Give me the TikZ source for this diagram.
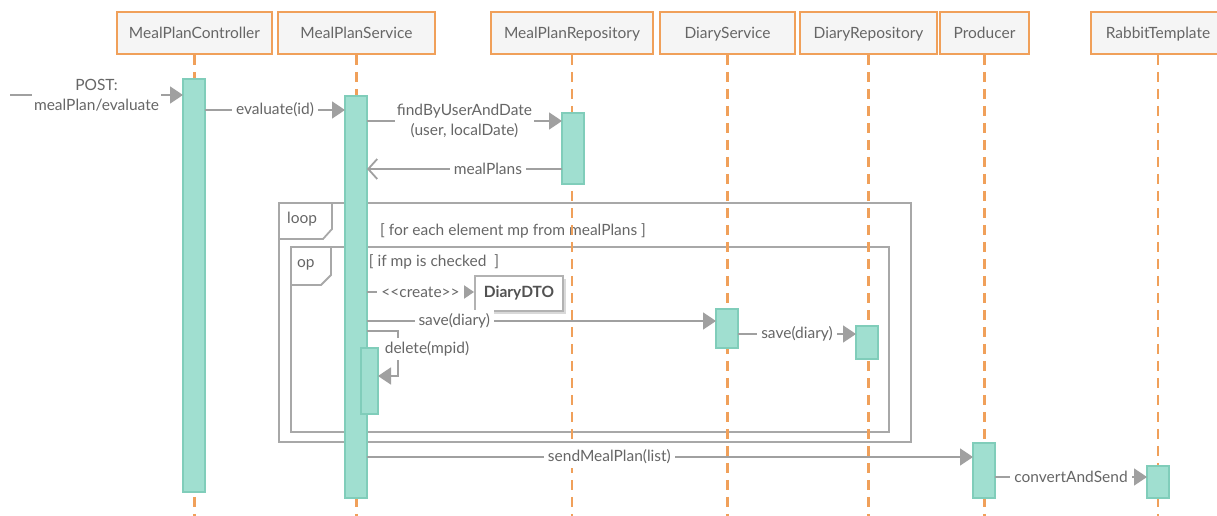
\documentclass[tikz,border=0pt]{standalone}
\usepackage{fontspec}
\setmainfont{Lato}
\usetikzlibrary{arrows.meta,calc,positioning}
\definecolor{lifeorange}{HTML}{F0A05A}
\definecolor{headfill}{HTML}{F5F5F5}
\definecolor{barfill}{HTML}{A0DFD0}
\definecolor{barline}{HTML}{80CDBA}
\definecolor{msggray}{HTML}{A0A0A0}
\definecolor{txtgray}{HTML}{666666}
\definecolor{framegray}{HTML}{A8A8A8}
\tikzset{%
	head/.style   = {draw=lifeorange, fill=headfill, line width=1.8pt, minimum height=42pt, inner sep=0pt, text=txtgray, text height=13pt, text depth=2pt, font=\fontsize{15.5}{18}\selectfont},
	life/.style   = {draw=lifeorange, line width=2.2pt, dash pattern=on 10pt off 7pt},
	actbar/.style = {draw=barline, fill=barfill, line width=1.4pt, minimum width=22pt, inner sep=0pt, outer sep=0pt, anchor=north},
	msg/.style    = {draw=msggray, line width=1.8pt, -{Triangle[length=13pt,width=17pt]}},
	reply/.style  = {draw=msggray, line width=1.8pt, -{Straight Barb[length=9pt,width=20pt]}},
	lbl/.style    = {fill=white, text=txtgray, inner sep=4pt, font=\fontsize{15.5}{19.5}\selectfont},
	frame/.style  = {draw=framegray, line width=1.8pt},
}

\begin{document}
\begin{tikzpicture}[x=1pt,y=-1pt]
	\useasboundingbox (0,0) rectangle (1217,516);
	\clip (0,0) rectangle (1217,516);
	% frames
	\draw[frame] (279,203) rectangle (911,442);
	\draw[frame] (279,239) -- (323,239) -- (332,229) -- (332,203);
	\node[lbl, anchor=west, fill=none] (looptag) at (283,219) {loop};
	\node[lbl, fill=none] (loopguard) at (513,231) {[ for each element mp from mealPlans ]};
	\draw[frame] (291,247) rectangle (889,432);
	\draw[frame] (291,285) -- (321,285) -- (331,275) -- (331,247);
	\node[lbl, anchor=west, fill=none] (optag) at (293,265) {op};
	\node[lbl, fill=none] (optguard) at (434,262) {[ if mp is checked~~]};
	% heads
	\node[head, minimum width=155pt] (ctrl) at (194.5,33) {MealPlanController};
	\node[head, minimum width=157pt] (svc)  at (356.5,33) {MealPlanService};
	\node[head, minimum width=162pt] (repo) at (572,33)   {MealPlanRepository};
	\node[head, minimum width=135pt] (ds)   at (727.5,33) {DiaryService};
	\node[head, minimum width=137pt] (dr)   at (868.5,33) {DiaryRepository};
	\node[head, minimum width=89pt]  (prod) at (984.5,33) {Producer};
	\node[head, minimum width=134pt] (rab)  at (1158,33)  {RabbitTemplate};
	\foreach \h in {ctrl,svc,repo,ds,dr,prod,rab}
		\draw[life] (\h.south) -- (\h.south |- 0,516);
	% activations
	\node[actbar, minimum height=413pt] (ctrlbar) at (194,79) {};
	\node[actbar, minimum height=402pt] (svcbar)  at (356,96) {};
	\node[actbar, minimum height=71pt]  (repobar) at (573,113) {};
	\node[actbar, minimum height=39pt]  (dsbar)   at (727,309) {};
	\node[actbar, minimum height=33pt]  (drbar)   at (867,326) {};
	\node[actbar, minimum width=17pt, minimum height=66pt] (selfbar) at (369.5,348) {};
	\node[actbar, minimum height=55pt]  (prodbar) at (984,443) {};
	\node[actbar, minimum height=32pt]  (rabbar)  at (1158,466) {};
	\fill[black!15] (478,279) rectangle (566,314);
	\node[draw=gray!60, line width=1.8pt, fill=white, minimum width=88pt, minimum height=35pt, inner sep=0pt, font=\fontsize{15.5}{17}\selectfont\bfseries, text=txtgray!80!black] (dto) at (519,293.5) {DiaryDTO};
	% messages
	\coordinate (entry) at (10,95);
	\draw[msg] (entry) -- node[lbl, align=center, inner sep=2pt] {POST:\\mealPlan/evaluate} (ctrlbar.west |- 0,95);
	\draw[msg] (ctrlbar.east |- 0,110) -- node[lbl] {evaluate(id)} (svcbar.west |- 0,110);
	\draw[msg] (svcbar.east |- 0,121) -- node[lbl, align=center, inner sep=2pt] {findByUserAndDate\\(user, localDate)} (repobar.west |- 0,121);
	\draw[reply] (repobar.west |- 0,169) -- node[lbl, pos=0.38] {mealPlans} (svcbar.east |- 0,169);
	\draw[msg] (svcbar.east |- 0,292) -- node[lbl] {{<}{<}create{>}{>}} (dto.west |- 0,292);
	\draw[msg] (svcbar.east |- 0,321) -- node[lbl, pos=0.25] {save(diary)} (dsbar.west |- 0,321);
	\draw[msg] (svcbar.east |- 0,331) -| (398,376) -- (selfbar.east |- 0,376);
	\node[lbl] (dellbl) at (427,349) {delete(mpid)};
	\draw[msg] (dsbar.east |- 0,334) -- node[lbl] {save(diary)} (drbar.west |- 0,334);
	\draw[msg] (svcbar.east |- 0,457) -- node[lbl, pos=0.4] {sendMealPlan(list)} (prodbar.west |- 0,457);
	\draw[msg] (prodbar.east |- 0,477) -- node[lbl] {convertAndSend} (rabbar.west |- 0,477);
\end{tikzpicture}
\end{document}
